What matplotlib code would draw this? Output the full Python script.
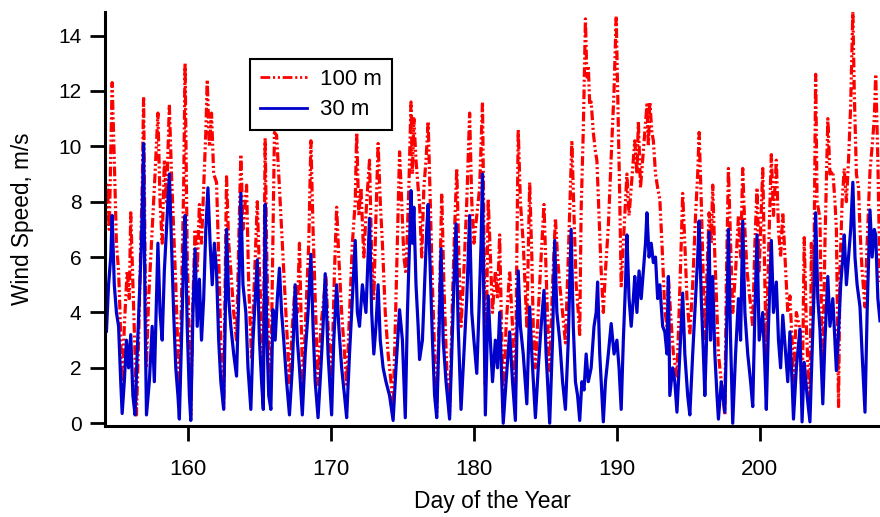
import matplotlib
import matplotlib.pyplot as plt

matplotlib.use('Agg')
plt.rcParams['font.family'] = ['Liberation Sans', 'DejaVu Sans']
plt.rcParams['lines.scale_dashes'] = False

# 100 m wind speed (day of year, m/s)
red_day = [
    154.2, 154.35, 154.5, 154.7, 154.85, 155.0, 155.15, 155.25, 155.4, 155.55, 155.75, 155.9,
    156.0, 156.15, 156.3, 156.4, 156.55, 156.7, 156.8, 156.9, 157.0, 157.1, 157.25, 157.4,
    157.55, 157.7, 157.9, 158.05, 158.2, 158.35, 158.5, 158.7, 158.85, 159.0, 159.15, 159.3,
    159.4, 159.55, 159.7, 159.8, 159.95, 160.1, 160.2, 160.35, 160.5, 160.65, 160.8, 160.95,
    161.1, 161.25, 161.35, 161.5, 161.65, 161.8, 162.0, 162.15, 162.3, 162.5, 162.6, 162.7,
    162.85, 163.0, 163.2, 163.4, 163.55, 163.7, 163.85, 164.1, 164.25, 164.45, 164.6, 164.85,
    165.0, 165.15, 165.27, 165.4, 165.5, 165.65, 165.8, 165.95, 166.05, 166.2, 166.35, 166.5,
    166.65, 166.8, 167.0, 167.1, 167.3, 167.5, 167.65, 167.8, 167.95, 168.05, 168.25, 168.45,
    168.6, 168.75, 168.9, 169.1, 169.3, 169.5, 169.65, 169.8, 170.05, 170.25, 170.4, 170.55,
    170.75, 170.95, 171.1, 171.3, 171.5, 171.7, 171.8, 171.95, 172.1, 172.3, 172.5, 172.7,
    172.85, 173.0, 173.15, 173.3, 173.45, 173.6, 173.8, 174.0, 174.2, 174.35, 174.55, 174.8,
    174.95, 175.1, 175.25, 175.45, 175.6, 175.7, 175.8, 175.95, 176.1, 176.2, 176.35, 176.5,
    176.65, 176.8, 176.95, 177.1, 177.25, 177.4, 177.55, 177.75, 177.9, 178.1, 178.3, 178.5,
    178.65, 178.8, 178.95, 179.1, 179.3, 179.5, 179.7, 179.85, 180.0, 180.2, 180.4, 180.6,
    180.7, 180.8, 180.9, 181.0, 181.15, 181.3, 181.5, 181.65, 181.8, 181.95, 182.05, 182.25,
    182.5, 182.7, 182.9, 183.0, 183.1, 183.25, 183.45, 183.7, 183.9, 184.05, 184.15, 184.3,
    184.5, 184.7, 184.9, 185.05, 185.2, 185.3, 185.5, 185.7, 185.85, 186.0, 186.2, 186.4,
    186.6, 186.75, 186.85, 187.0, 187.15, 187.3, 187.4, 187.5, 187.65, 187.8, 187.9, 188.0,
    188.1, 188.2, 188.35, 188.5, 188.6, 188.75, 188.9, 189.05, 189.2, 189.4, 189.6, 189.8,
    189.95, 190.05, 190.2, 190.3, 190.45, 190.6, 190.7, 190.85, 191.0, 191.15, 191.25, 191.4,
    191.5, 191.65, 191.8, 191.95, 192.1, 192.2, 192.3, 192.45, 192.55, 192.7, 192.85, 193.0,
    193.15, 193.35, 193.5, 193.6, 193.75, 193.95, 194.2, 194.35, 194.5, 194.6, 194.75, 194.9,
    195.1, 195.3, 195.5, 195.65, 195.75, 195.9, 196.05, 196.15, 196.3, 196.45, 196.6, 196.7,
    196.85, 197.0, 197.1, 197.3, 197.55, 197.65, 197.8, 197.95, 198.1, 198.3, 198.5, 198.65,
    198.8, 198.95, 199.1, 199.3, 199.5, 199.65, 199.8, 199.95, 200.05, 200.2, 200.35, 200.45,
    200.6, 200.8, 200.95, 201.15, 201.3, 201.45, 201.6, 201.8, 201.95, 202.1, 202.25, 202.35,
    202.55, 202.8, 202.95, 203.1, 203.25, 203.4, 203.5, 203.6, 203.75, 203.9, 204.0, 204.2,
    204.3, 204.4, 204.55, 204.75, 204.9, 205.1, 205.25, 205.35, 205.5, 205.6, 205.75, 205.9,
    206.05, 206.2, 206.35, 206.5, 206.6, 206.75, 206.9, 207.0, 207.15, 207.35, 207.5, 207.7,
    207.85, 208.0, 208.1, 208.25, 208.4,
]
red_speed = [
    6.5, 8.6, 7.0, 12.3, 9.5, 6.5, 5.5, 4.0, 1.0, 3.5, 5.5, 4.5,
    7.6, 5.0, 2.5, 0.3, 3.0, 6.5, 8.5, 11.8, 6.0, 2.0, 4.5, 6.0,
    7.5, 9.0, 11.2, 8.0, 6.5, 9.5, 8.0, 11.5, 9.0, 7.0, 5.0, 2.5,
    0.8, 4.5, 8.5, 13.0, 6.0, 3.0, 0.3, 4.5, 7.0, 5.5, 7.9, 6.5,
    8.5, 10.5, 12.4, 10.0, 11.2, 9.0, 8.7, 6.0, 3.0, 0.5, 5.0, 8.9,
    6.5, 5.5, 4.0, 3.0, 6.5, 9.7, 7.0, 8.6, 5.0, 2.3, 4.5, 8.0,
    5.5, 3.5, 2.0, 10.3, 6.5, 2.5, 1.5, 7.0, 10.5, 10.4, 9.0, 7.5,
    6.0, 4.5, 2.5, 1.4, 3.5, 5.0, 4.0, 6.5, 3.0, 1.2, 4.0, 6.5,
    10.2, 7.0, 4.5, 1.4, 3.5, 4.5, 5.3, 3.5, 1.5, 5.5, 7.8, 6.0,
    4.0, 2.5, 1.4, 4.0, 6.5, 8.0, 10.5, 7.5, 8.5, 6.0, 8.0, 9.5,
    6.0, 4.5, 7.5, 10.1, 8.0, 6.5, 4.0, 2.5, 1.5, 0.5, 4.5, 9.8,
    8.0, 6.0, 5.4, 8.5, 11.6, 9.0, 11.0, 9.5, 8.5, 7.9, 6.0, 8.5,
    9.5, 10.9, 8.0, 5.0, 2.5, 0.4, 3.5, 8.3, 5.0, 2.0, 0.3, 4.5,
    7.0, 9.2, 6.0, 3.5, 5.5, 8.0, 11.2, 8.0, 6.5, 7.5, 8.5, 11.6,
    7.0, 1.4, 4.5, 8.1, 6.0, 4.0, 5.5, 4.5, 6.8, 3.0, 0.4, 3.5,
    5.5, 3.5, 1.0, 6.0, 10.6, 8.0, 6.5, 3.5, 8.7, 6.0, 3.5, 2.0,
    4.0, 6.0, 7.9, 5.5, 3.0, 1.9, 5.0, 7.4, 6.0, 5.0, 4.0, 2.9,
    6.0, 8.5, 10.2, 7.5, 5.0, 4.0, 3.2, 7.7, 10.6, 14.6, 12.5, 12.9,
    11.5, 11.6, 10.5, 9.8, 9.5, 7.5, 5.5, 4.0, 5.5, 7.1, 9.6, 12.0,
    14.7, 12.0, 8.1, 4.9, 6.5, 8.0, 9.0, 7.5, 8.5, 9.5, 10.2, 9.0,
    10.9, 8.5, 9.5, 10.5, 11.5, 10.0, 11.6, 10.5, 10.2, 9.0, 8.5, 8.1,
    6.5, 4.1, 3.5, 5.3, 4.0, 2.5, 1.7, 4.0, 6.5, 8.3, 6.5, 4.5,
    3.2, 5.0, 7.5, 9.0, 10.5, 8.0, 5.0, 3.0, 5.5, 7.6, 6.5, 8.6,
    6.0, 4.0, 2.5, 1.5, 0.3, 5.0, 9.2, 6.5, 4.0, 5.5, 7.5, 6.0,
    9.2, 7.0, 5.5, 4.5, 3.5, 6.5, 8.5, 5.5, 7.0, 9.2, 5.0, 2.5,
    6.0, 9.7, 7.5, 9.5, 7.0, 6.0, 7.6, 5.5, 4.0, 4.6, 3.0, 1.5,
    4.0, 3.4, 0.6, 6.7, 3.5, 1.5, 0.5, 6.5, 4.0, 12.6, 8.0, 7.4,
    4.0, 1.5, 6.5, 11.0, 9.0, 9.1, 8.0, 7.0, 0.6, 5.5, 8.0, 9.2,
    8.0, 9.5, 11.5, 14.9, 12.0, 9.0, 8.5, 7.0, 5.5, 4.2, 6.5, 9.1,
    10.0, 11.0, 12.6, 9.5, 5.1,
]

# 30 m wind speed
blue_day = [
    154.2, 154.3, 154.45, 154.6, 154.7, 154.85, 155.0, 155.15, 155.3, 155.4, 155.55, 155.7,
    155.85, 156.0, 156.15, 156.3, 156.45, 156.6, 156.75, 156.9, 157.0, 157.1, 157.3, 157.5,
    157.65, 157.8, 157.9, 158.05, 158.2, 158.35, 158.5, 158.7, 158.85, 159.0, 159.15, 159.3,
    159.4, 159.55, 159.7, 159.8, 159.95, 160.1, 160.2, 160.35, 160.5, 160.65, 160.8, 160.95,
    161.1, 161.25, 161.4, 161.55, 161.7, 161.85, 162.0, 162.15, 162.3, 162.5, 162.6, 162.7,
    162.85, 163.0, 163.2, 163.4, 163.55, 163.7, 163.85, 164.05, 164.2, 164.4, 164.55, 164.85,
    165.0, 165.15, 165.27, 165.4, 165.5, 165.65, 165.8, 165.95, 166.1, 166.25, 166.4, 166.55,
    166.7, 166.9, 167.1, 167.3, 167.5, 167.65, 167.8, 168.0, 168.2, 168.4, 168.6, 168.75,
    168.9, 169.1, 169.3, 169.45, 169.6, 169.8, 170.05, 170.2, 170.4, 170.55, 170.75, 170.95,
    171.1, 171.3, 171.5, 171.7, 171.85, 172.0, 172.2, 172.45, 172.7, 172.85, 173.0, 173.15,
    173.3, 173.45, 173.65, 173.85, 174.1, 174.35, 174.55, 174.8, 175.0, 175.2, 175.35, 175.5,
    175.6, 175.7, 175.8, 175.95, 176.1, 176.2, 176.4, 176.55, 176.7, 176.8, 176.95, 177.1,
    177.25, 177.4, 177.55, 177.7, 177.85, 178.05, 178.3, 178.45, 178.6, 178.75, 178.9, 179.1,
    179.3, 179.5, 179.7, 179.85, 180.0, 180.2, 180.35, 180.5, 180.6, 180.7, 180.8, 180.9,
    181.0, 181.15, 181.3, 181.5, 181.65, 181.8, 181.95, 182.05, 182.25, 182.5, 182.7, 182.9,
    183.0, 183.1, 183.25, 183.45, 183.7, 183.9, 184.05, 184.3, 184.5, 184.7, 184.9, 185.05,
    185.3, 185.5, 185.65, 185.8, 186.0, 186.2, 186.4, 186.6, 186.8, 186.95, 187.1, 187.25,
    187.4, 187.55, 187.7, 187.85, 188.0, 188.2, 188.4, 188.55, 188.65, 188.8, 188.95, 189.05,
    189.2, 189.4, 189.6, 189.8, 190.0, 190.15, 190.3, 190.45, 190.6, 190.7, 190.85, 191.0,
    191.15, 191.25, 191.4, 191.55, 191.7, 191.85, 192.0, 192.1, 192.25, 192.4, 192.55, 192.7,
    192.85, 193.0, 193.2, 193.35, 193.5, 193.6, 193.7, 193.9, 194.05, 194.2, 194.4, 194.6,
    194.75, 194.95, 195.1, 195.3, 195.5, 195.65, 195.75, 195.9, 196.05, 196.15, 196.3, 196.45,
    196.55, 196.7, 196.85, 197.0, 197.1, 197.3, 197.55, 197.7, 197.8, 197.95, 198.1, 198.3,
    198.5, 198.65, 198.8, 198.95, 199.15, 199.35, 199.5, 199.65, 199.8, 199.95, 200.2, 200.35,
    200.45, 200.6, 200.8, 200.95, 201.15, 201.3, 201.45, 201.6, 201.8, 201.95, 202.1, 202.25,
    202.35, 202.55, 202.8, 202.95, 203.1, 203.3, 203.5, 203.65, 203.8, 203.9, 204.05, 204.2,
    204.4, 204.55, 204.75, 204.9, 205.1, 205.35, 205.5, 205.65, 205.8, 205.9, 206.05, 206.2,
    206.35, 206.5, 206.65, 206.8, 207.0, 207.15, 207.35, 207.5, 207.7, 207.85, 208.0, 208.1,
    208.25, 208.4,
]
blue_speed = [
    4.5, 3.3, 5.0, 6.0, 7.5, 5.0, 4.0, 3.5, 1.5, 0.35, 1.5, 3.0,
    2.0, 3.2, 1.0, 0.3, 2.5, 4.5, 6.5, 10.1, 4.0, 0.3, 1.5, 3.5,
    1.5, 4.5, 6.5, 4.0, 3.0, 5.5, 7.0, 9.0, 6.5, 4.0, 2.0, 1.0,
    0.15, 3.0, 6.0, 7.5, 3.5, 1.0, 0.1, 4.0, 6.3, 3.5, 5.2, 3.0,
    4.5, 7.0, 8.5, 6.5, 5.0, 6.5, 5.5, 3.0, 1.5, 0.5, 3.5, 7.0,
    4.5, 3.5, 2.5, 1.7, 4.5, 8.3, 5.0, 4.0, 2.0, 0.5, 3.0, 5.9,
    3.0, 1.5, 0.5, 7.9, 3.5, 1.0, 0.5, 4.1, 3.0, 4.5, 5.6, 4.0,
    3.0, 1.5, 0.3, 2.0, 5.0, 3.0, 2.0, 0.3, 2.5, 4.0, 6.1, 3.5,
    1.5, 0.2, 2.0, 3.5, 5.4, 2.5, 0.3, 3.0, 5.0, 3.5, 2.0, 1.0,
    0.2, 2.5, 4.5, 6.6, 4.0, 3.5, 5.0, 4.0, 7.4, 4.0, 2.5, 3.5,
    5.0, 3.0, 2.0, 1.5, 1.0, 0.1, 2.0, 4.1, 3.0, 0.2, 4.0, 6.5,
    8.4, 6.5, 7.8, 5.0, 3.5, 2.3, 3.0, 5.0, 7.0, 7.9, 5.5, 3.0,
    1.0, 0.2, 3.0, 6.3, 3.0, 1.5, 0.15, 2.5, 5.0, 7.2, 3.5, 0.5,
    2.5, 4.5, 7.5, 4.0, 3.0, 1.8, 4.0, 6.5, 9.0, 4.0, 0.3, 2.5,
    4.6, 3.0, 1.5, 3.0, 2.0, 4.0, 1.5, 0.0, 1.5, 3.3, 1.5, 0.1,
    3.0, 5.5, 3.5, 2.5, 0.7, 4.2, 2.5, 0.2, 2.0, 3.5, 4.8, 2.5,
    0.0, 3.0, 6.6, 4.0, 3.0, 1.5, 0.5, 3.0, 7.0, 3.5, 1.5, 1.0,
    0.1, 1.5, 1.2, 2.5, 1.5, 2.0, 3.5, 4.0, 5.1, 2.5, 1.0, 0.05,
    1.5, 2.5, 3.6, 2.5, 3.0, 2.0, 0.5, 3.0, 5.0, 6.8, 4.5, 3.5,
    4.5, 5.3, 4.0, 5.5, 4.5, 5.5, 6.5, 7.6, 6.0, 6.5, 5.8, 6.0,
    4.5, 5.0, 3.5, 3.3, 2.5, 5.3, 1.0, 2.0, 1.5, 0.4, 2.5, 4.7,
    2.5, 1.0, 0.3, 2.5, 4.5, 6.0, 7.3, 4.5, 2.5, 1.0, 3.5, 6.9,
    3.0, 5.3, 2.5, 1.0, 0.15, 1.5, 0.4, 4.0, 7.0, 3.0, 0.0, 2.5,
    4.5, 3.0, 7.3, 4.0, 2.5, 1.5, 0.6, 4.0, 6.8, 3.0, 4.0, 2.0,
    0.5, 3.5, 6.6, 4.0, 5.1, 3.0, 2.0, 3.9, 2.5, 1.5, 3.3, 1.5,
    0.15, 2.0, 3.4, 0.05, 2.2, 1.0, 0.05, 2.5, 5.0, 7.6, 4.5, 3.4,
    0.7, 3.0, 5.3, 3.5, 4.5, 1.9, 3.3, 5.0, 6.0, 6.8, 5.0, 6.0,
    7.0, 8.7, 6.0, 5.0, 4.2, 2.5, 0.4, 4.0, 7.7, 6.0, 7.0, 6.8,
    4.5, 3.7,
]

fig = plt.figure(figsize=(8.8, 5.17), dpi=100)
ax = fig.add_axes([105 / 880, 1 - 426 / 517, 775 / 880, (426 - 12) / 517])

ax.plot(red_day, red_speed, color='#ff0000', lw=2.3,
        linestyle=(0, (7, 2, 1.5, 2, 1.5, 2)), label='100 m')
ax.plot(blue_day, blue_speed, color='#0000cc', lw=2.3, label='30 m')

ax.set_xlim(154.2, 208.4)
ax.set_ylim(-0.1, 14.85)
ax.set_xticks([160, 170, 180, 190, 200])
ax.set_yticks(range(0, 15, 2))

for side in ['top', 'right']:
    ax.spines[side].set_visible(False)
for side in ['left', 'bottom']:
    ax.spines[side].set_linewidth(2.2)
ax.tick_params(axis='y', direction='out', length=11, width=2.0, pad=6, labelsize=15)
ax.tick_params(axis='x', direction='out', length=11, width=2.0, pad=13, labelsize=16)

ax.set_xlabel('Day of the Year', fontsize=16.5, labelpad=7)
ax.set_ylabel('Wind Speed, m/s', fontsize=16.3, labelpad=17)

leg = ax.legend(loc='upper left', bbox_to_anchor=(250 / 880, 1 - 59 / 517),
                bbox_transform=fig.transFigure, borderaxespad=0, fontsize=16,
                fancybox=False, framealpha=1, edgecolor='black',
                handlelength=2.1, handletextpad=0.6, labelspacing=0.42,
                borderpad=0.45)
leg.get_frame().set_linewidth(1.5)
for line in leg.get_lines():
    line.set_linewidth(2.0)

fig.savefig('out.png', dpi=100)
